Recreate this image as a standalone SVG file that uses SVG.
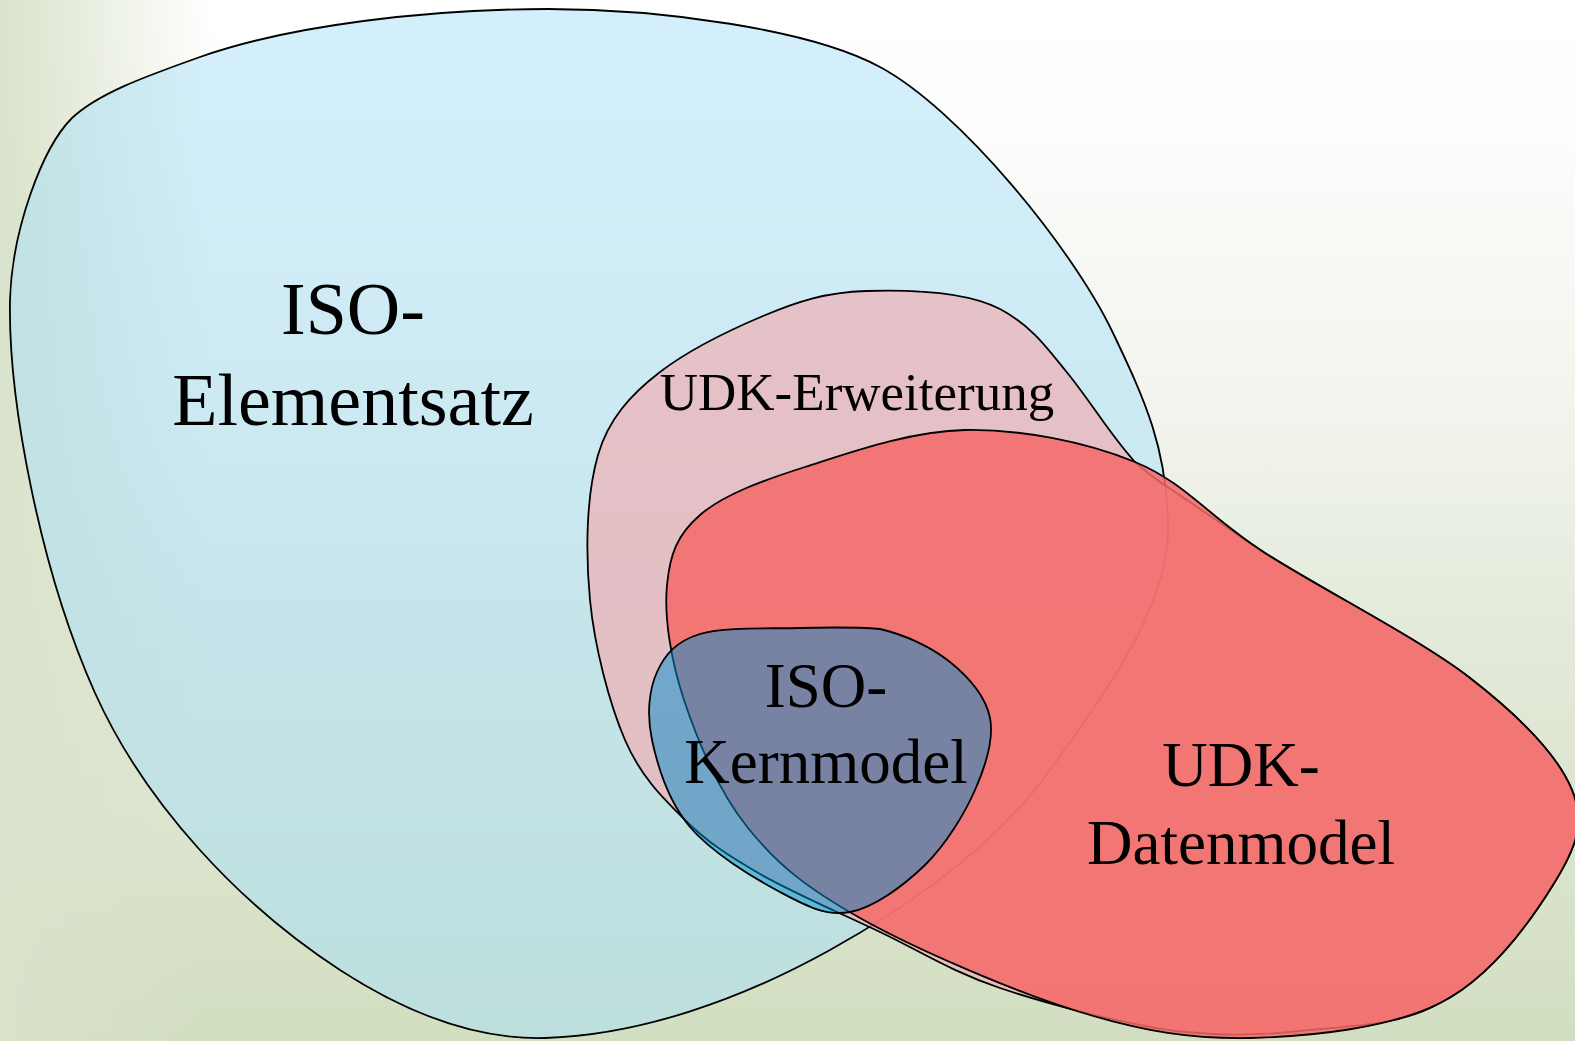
<svg xmlns="http://www.w3.org/2000/svg" width="1575" height="1041" viewBox="0 0 1575 1041">
  <defs>
    <linearGradient id="bgV" x1="0" y1="0" x2="0" y2="1">
      <stop offset="0" stop-color="#ffffff"/>
      <stop offset="0.12" stop-color="#fdfdfc"/>
      <stop offset="0.4" stop-color="#f1f4ec"/>
      <stop offset="0.6" stop-color="#e4eadb"/>
      <stop offset="1" stop-color="#d2dec0"/>
    </linearGradient>
    <linearGradient id="bgH" x1="0" y1="0" x2="1" y2="0">
      <stop offset="0" stop-color="#d9e2ca" stop-opacity="1"/>
      <stop offset="1" stop-color="#d9e2ca" stop-opacity="0"/>
    </linearGradient>
    <style>
      .set { stroke: #000; stroke-width: 1.8; stroke-linejoin: round; }
      .iso { fill: rgb(167,223,249); fill-opacity: 0.5; }
      .erw { fill: rgb(238,178,181); fill-opacity: 0.72; }
      .dat { fill: rgb(243,104,102); fill-opacity: 0.85; }
      .kern { fill: rgb(0,141,208); fill-opacity: 0.5; }
      .lbl { font-family: "Liberation Serif", "Times New Roman", serif; fill: #000; text-anchor: middle; }
    </style>
  </defs>

  <g id="background">
    <rect x="0" y="0" width="1575" height="1041" fill="url(#bgV)"/>
    <rect x="0" y="0" width="210" height="1041" fill="url(#bgH)"/>
  </g>

  <g id="iso-elementsatz">
    <path class="set iso" d="M548,9 C430,9 290,25 200,57 C150,75 100,92 72,118 C42,148 12,230 10,300 C8,400 40,570 95,693 C145,804 240,905 340,970 C400,1009 470,1040 545,1038 C640,1035 740,1000 830,950 C920,900 1000,840 1050,770 C1100,700 1168,610 1168,530 C1168,450 1145,400 1113,333 C1073,249 960,110 880,67 C810,29 660,9 548,9 Z"/>
    <text class="lbl" x="353" y="334" font-size="74">ISO-</text>
    <text class="lbl" x="353" y="425" font-size="74">Elementsatz</text>
  </g>

  <g id="udk-erweiterung">
    <path class="set erw" d="M1265,553 C1321,589 1419,638.5 1470,678 C1521,717.5 1558,755.5 1572,790 C1586,824.5 1575,849.5 1553,885 C1531,920.5 1490.5,977.5 1440,1003 C1398,1027 1344,1026 1300,1031 C1256,1035.7 1225,1036 1175,1031 C1125,1024 1049,1004.5 1000,988 C951,971.5 920,951 880,932 C840,913 792.5,892.7 760,874 C727.5,855.3 707.5,842.3 685,820 C662.5,797.7 640.8,776.7 625,740 C609.2,703.3 594.5,646.7 590,600 C585.5,553.3 586,496.3 598,455 C608,420 630,395 660,372 C690,349 727,331.2 763,316 C799,300.8 825.8,292.5 866,291 C930,289 975,296 1000,309 C1030,325 1045,345 1065,370 C1090,400 1110,435 1135,462 C1150,476 1160,482 1175,492 C1205,512 1230,530 1265,553 Z"/>
    <text class="lbl" x="857" y="410" font-size="53">UDK-Erweiterung</text>
  </g>

  <g id="udk-datenmodel">
    <path class="set dat" d="M805,467 C849,453 910,431 965,430 C1020,429 1085,441.5 1135,462 C1185,482.5 1209,517 1265,553 C1321,589 1419,638.5 1470,678 C1521,717.5 1558,755.5 1572,790 C1586,824.5 1575,849.5 1553,885 C1531,920.5 1490.5,977.5 1440,1003 C1389.5,1028.5 1310,1036.5 1250,1038 C1192,1039 1145,1032 1080,1012 C1015,992 915,949 860,918 C805,887 777,864 748,828 C719,792 697.5,740.5 684,700 C670.5,659.5 664,616 667,585 C670,554 677,535 700,515 C723,495 761,481 805,467 Z"/>
    <text class="lbl" x="1241" y="786" font-size="63">UDK-</text>
    <text class="lbl" x="1241" y="864" font-size="63">Datenmodel</text>
  </g>

  <g id="iso-kernmodel">
    <path class="set kern" d="M700,634 C723.8,626.7 770,628.8 800,628 C830,627.2 855,627 880,629 C905,634.7 931.7,647.2 950,662 C968.3,676.8 985.8,696.7 990,718 C994.2,739.3 985.8,765.5 975,790 C964.2,814.5 945.8,844.7 925,865 C904.2,885.3 874.2,907.5 850,912 C825.8,916.5 806.7,906.2 780,892 C753.3,877.8 711.3,852.3 690,827 C668.7,801.7 657.5,765.8 652,740 C646.5,714.2 649,689.7 657,672 C665,654.3 676.2,641.3 700,634 Z"/>
    <text class="lbl" x="826" y="707" font-size="63">ISO-</text>
    <text class="lbl" x="826" y="783" font-size="63">Kernmodel</text>
  </g>

  <g id="connectors"/>
</svg>
